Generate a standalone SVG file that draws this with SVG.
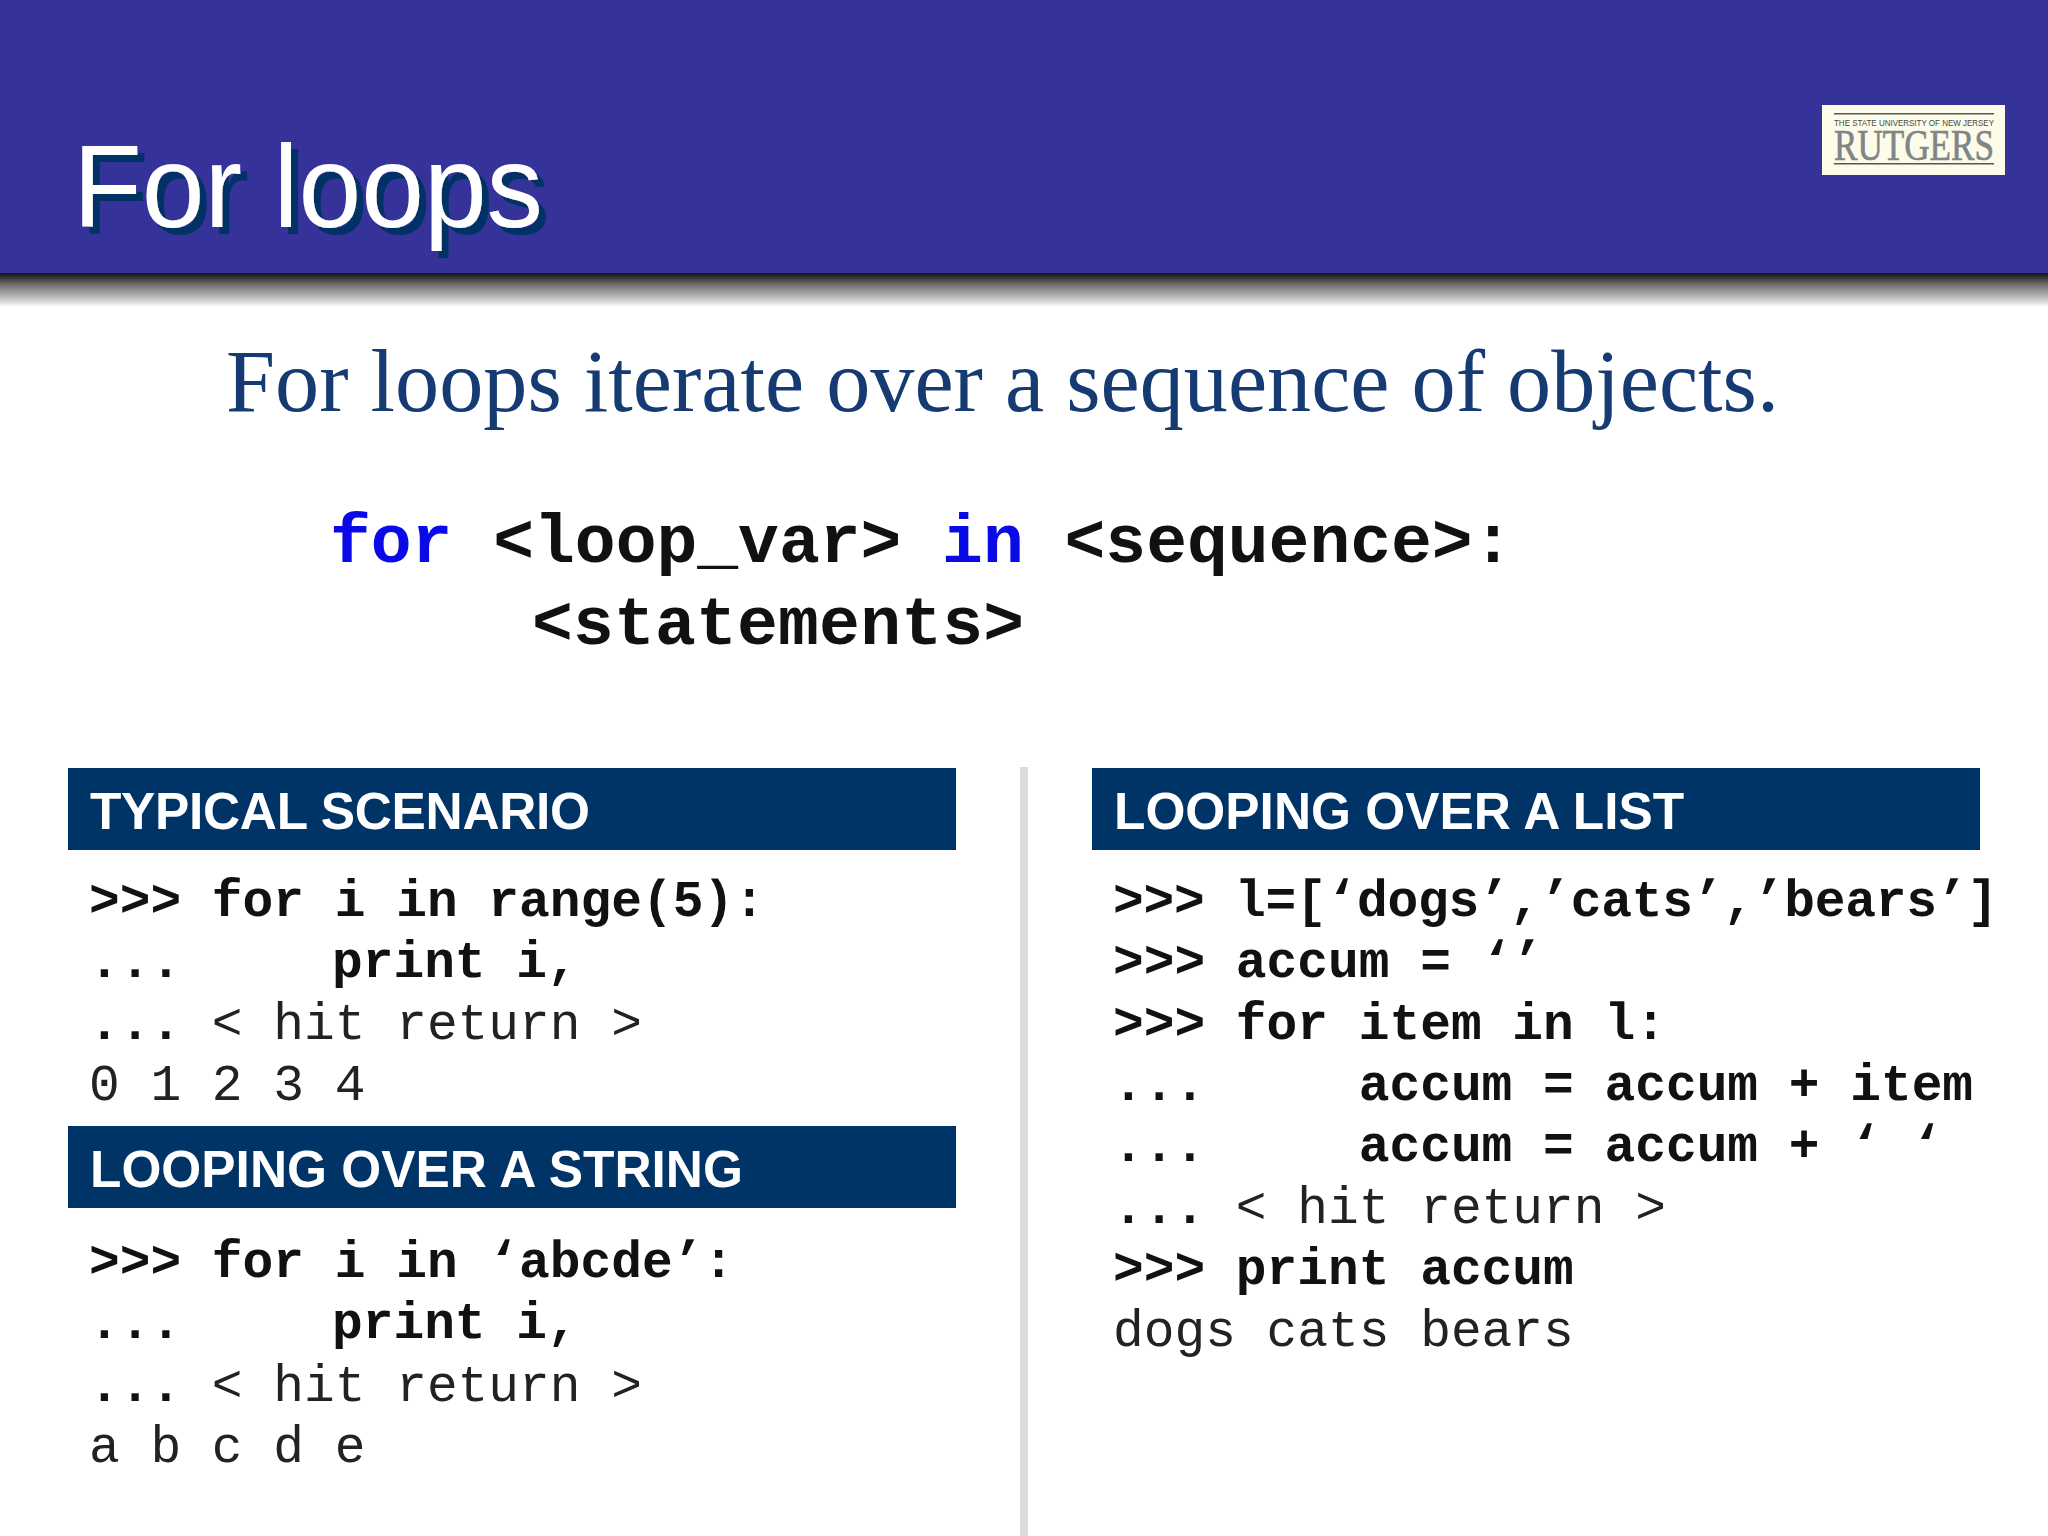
<svg xmlns="http://www.w3.org/2000/svg" width="2048" height="1536" viewBox="0 0 2048 1536">
<defs>
<linearGradient id="shade" x1="0" y1="0" x2="0" y2="1">
<stop offset="0" stop-color="#111111"/><stop offset="0.35" stop-color="#707070"/><stop offset="0.75" stop-color="#c4c4c4"/><stop offset="1" stop-color="#ffffff"/>
</linearGradient>
<filter id="titleShadow" x="-5%" y="-10%" width="110%" height="125%">
<feDropShadow dx="7" dy="7" stdDeviation="0" flood-color="#003366"/>
</filter>
</defs>
<style>
.title{font:116px "Liberation Sans",Arial,sans-serif}
.sub{font:88px "Liberation Serif","Times New Roman",serif;fill:#163a72}
.big{font:bold 68px "Liberation Mono","Courier New",monospace;fill:#111;white-space:pre}
.kw{fill:#0a0ae6}
.hb{fill:#003366}
.ht{font:bold 51.4px "Liberation Sans",Arial,sans-serif;fill:#fff}
.c{font:51.2px "Liberation Mono","Courier New",monospace;fill:#222;white-space:pre}
.b{font-weight:bold;fill:#111}
</style>
<rect width="2048" height="1536" fill="#ffffff"/>
<g id="title-band">
<rect x="0" y="273" width="2048" height="34" fill="url(#shade)"/>
<rect x="0" y="0" width="2048" height="273" fill="#353399"/>
<text class="title" x="73" y="227" fill="#ffffff" textLength="470" lengthAdjust="spacingAndGlyphs" filter="url(#titleShadow)">For loops</text>
</g>
<g id="logo">
<rect x="1822" y="105" width="183" height="70" fill="#fcfce8"/>
<rect x="1834" y="113" width="160" height="1.5" fill="#55585a"/>
<rect x="1834" y="163" width="160" height="1.5" fill="#55585a"/>
<text x="1834" y="125.5" font-family="Liberation Sans,sans-serif" font-size="9.5" textLength="160" lengthAdjust="spacingAndGlyphs" fill="#44474a">THE STATE UNIVERSITY OF NEW JERSEY</text>
<text x="1834" y="160" font-family="Liberation Serif,serif" font-size="45" textLength="160" lengthAdjust="spacingAndGlyphs" fill="#80858a" stroke="#80858a" stroke-width="0.7">RUTGERS</text>
</g>
<text class="sub" x="226" y="411" textLength="1553" lengthAdjust="spacingAndGlyphs">For loops iterate over a sequence of objects.</text>
<g id="syntax">
<text class="big" x="330" y="562"><tspan class="kw">for</tspan> &lt;loop_var&gt; <tspan class="kw">in</tspan> &lt;sequence&gt;:</text>
<text class="big" x="532" y="644" textLength="492">&lt;statements&gt;</text>
</g>
<rect id="divider" x="1020" y="767" width="8" height="769" fill="#dcdcdc"/>
<g id="typical-scenario">
<rect class="hb" x="68" y="768" width="888" height="82"/>
<text class="ht" x="90" y="829" textLength="500">TYPICAL SCENARIO</text>
<text class="c b" x="89" y="916">&gt;&gt;&gt; for i in range(5):</text>
<text class="c b" x="89" y="977">...<tspan x="332">print i,</tspan></text>
<text class="c" x="89" y="1039"><tspan class="b">...</tspan> &lt; hit return &gt;</text>
<text class="c" x="89" y="1100">0 1 2 3 4</text>
</g>
<g id="looping-string">
<rect class="hb" x="68" y="1126" width="888" height="82"/>
<text class="ht" x="90" y="1187">LOOPING OVER A STRING</text>
<text class="c b" x="89" y="1277">&gt;&gt;&gt; for i in ‘abcde’:</text>
<text class="c b" x="89" y="1338">...<tspan x="332">print i,</tspan></text>
<text class="c" x="89" y="1401"><tspan class="b">...</tspan> &lt; hit return &gt;</text>
<text class="c" x="89" y="1462">a b c d e</text>
</g>
<g id="looping-list">
<rect class="hb" x="1092" y="768" width="888" height="82"/>
<text class="ht" x="1114" y="829">LOOPING OVER A LIST</text>
<text class="c b" x="1113" y="916" textLength="885">&gt;&gt;&gt; l=[‘dogs’,’cats’,’bears’]</text>
<text class="c b" x="1113" y="977">&gt;&gt;&gt; accum = ‘’</text>
<text class="c b" x="1113" y="1039">&gt;&gt;&gt; for item in l:</text>
<text class="c b" x="1113" y="1100">...     accum = accum + item</text>
<text class="c b" x="1113" y="1161">...     accum = accum + ‘ ‘</text>
<text class="c" x="1113" y="1223"><tspan class="b">...</tspan> &lt; hit return &gt;</text>
<text class="c b" x="1113" y="1284">&gt;&gt;&gt; print accum</text>
<text class="c" x="1113" y="1346">dogs cats bears</text>
</g>
</svg>
